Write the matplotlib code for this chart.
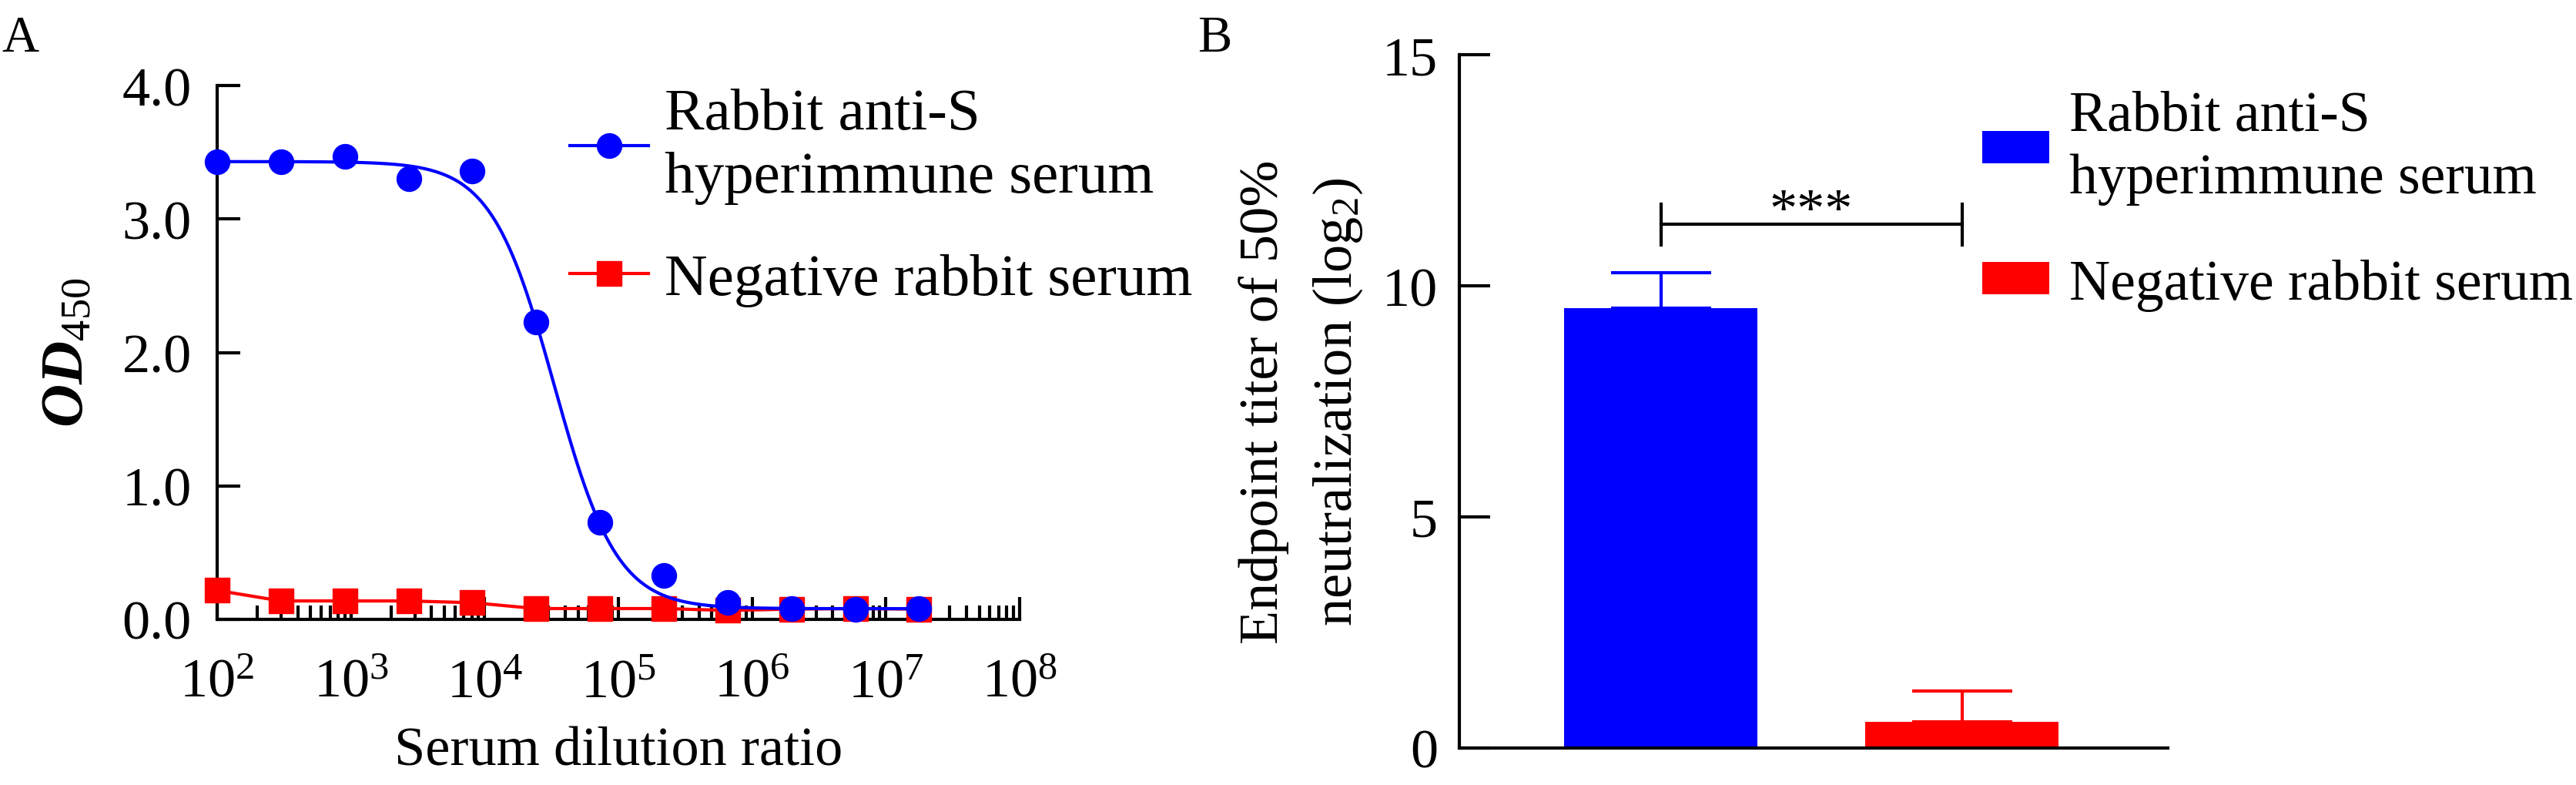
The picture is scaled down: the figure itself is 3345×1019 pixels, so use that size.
import numpy as np
import matplotlib
matplotlib.use("Agg")
import matplotlib.pyplot as plt
from matplotlib.ticker import LogLocator, LogFormatterMathtext, NullFormatter
from matplotlib.lines import Line2D
from matplotlib.patches import Patch

plt.rcParams['font.family'] = ['Liberation Serif', 'DejaVu Serif']
plt.rcParams['mathtext.fontset'] = 'custom'
plt.rcParams['mathtext.rm'] = 'Liberation Serif'
plt.rcParams['mathtext.it'] = 'Liberation Serif:italic'
plt.rcParams['mathtext.bf'] = 'Liberation Serif:bold'

# ---------------- data ----------------
dilutions = [100, 300, 900, 2700, 8100, 24300, 72900, 218700, 656100,
             1968300, 5904900, 17714700]
od_anti_s = [3.43, 3.43, 3.47, 3.30, 3.36, 2.23, 0.73, 0.33, 0.125, 0.081, 0.073, 0.081]
od_negative = [0.217, 0.138, 0.138, 0.138, 0.125, 0.081, 0.081, 0.081, 0.067, 0.077, 0.081, 0.077]
# four-parameter logistic fit of the anti-S curve (top, bottom, logEC50, hill)
fit_top, fit_bottom, fit_log_ec50, fit_hill = 3.43, 0.08, 4.52, 1.85

groups = ["Rabbit anti-S\nhyperimmune serum", "Negative rabbit serum"]
titer_mean = [9.52, 0.56]
titer_err = [0.77, 0.68]
sig_label = "***"

blue = "#0000FF"
red = "#FF0000"

W, H = 3345, 1020
fig = plt.figure(figsize=(W / 100, H / 100), dpi=100)

def fx(px):
    return px / W

def fy(py):
    return 1 - py / H

LW = 3.0
FS_TICK = 52
FS_LAB = 52

# ---------------- Panel A ----------------
axA = fig.add_axes([fx(282), fy(805), fx(1324) - fx(282), fy(112) - fy(805)])
axA.set_xscale('log')
axA.set_xlim(1e2, 1e8)
axA.set_ylim(0, 4.0)

axA.plot(dilutions, od_negative, color=red, lw=LW, marker='s', ms=23,
         mec=red, mfc=red, zorder=3, clip_on=False)
xs = np.logspace(np.log10(dilutions[0]), np.log10(dilutions[-1]), 400)
curve = fit_bottom + (fit_top - fit_bottom) / (1 + 10 ** (fit_hill * (np.log10(xs) - fit_log_ec50)))
axA.plot(xs, curve, color=blue, lw=LW, zorder=4, clip_on=False)
axA.plot(dilutions, od_anti_s, color=blue, lw=0, marker='o', ms=23,
         mec=blue, mfc=blue, zorder=5, clip_on=False)

for s in ['top', 'right']:
    axA.spines[s].set_visible(False)
for s in ['left', 'bottom']:
    axA.spines[s].set_linewidth(LW)
axA.set_yticks([0, 1, 2, 3, 4])
axA.set_yticklabels(["0.0", "1.0", "2.0", "3.0", "4.0"])
axA.xaxis.set_major_locator(LogLocator(base=10, numticks=20))
axA.xaxis.set_major_formatter(LogFormatterMathtext())
axA.xaxis.set_minor_locator(LogLocator(base=10, subs=np.arange(2, 10), numticks=20))
axA.xaxis.set_minor_formatter(NullFormatter())
axA.tick_params(axis='both', which='major', direction='in', width=LW, labelsize=FS_TICK)
axA.tick_params(axis='y', which='major', length=21.6, pad=24)
axA.tick_params(axis='x', which='major', length=21, pad=36)
axA.tick_params(axis='x', which='minor', direction='in', length=13, width=LW)

fig.text(fx(88), fy(458), r"OD$_{\mathrm{450}}$", rotation=90, ha='center', va='center',
         fontsize=56, fontstyle='italic', fontweight='bold')
fig.text(fx(803), fy(994), "Serum dilution ratio", ha='center', va='baseline', fontsize=FS_LAB)

hA = [Line2D([], [], color=blue, lw=LW, marker='o', ms=23),
      Line2D([], [], color=red, lw=LW, marker='s', ms=23)]
legA = axA.legend(hA, groups, loc='upper left', bbox_to_anchor=(fx(740), fy(115)),
                  bbox_transform=fig.transFigure, frameon=False, fontsize=55.5,
                  handlelength=1.32, handletextpad=0.27, borderpad=0, borderaxespad=0,
                  labelspacing=0.82, numpoints=1)
for t in legA.get_texts():
    t.set_linespacing(1.24)

fig.text(fx(2), fy(20), "A", ha='left', va='top', fontsize=48)

# ---------------- Panel B ----------------
axB = fig.add_axes([fx(1895), fy(972), fx(2815) - fx(1895), fy(72) - fy(972)])
xpos = np.arange(len(groups))
axB.bar(xpos, titer_mean, width=0.642, color=[blue, red], zorder=2)
for i in range(len(groups)):
    axB.errorbar(xpos[i], titer_mean[i], yerr=[[0], [titer_err[i]]], fmt='none',
                 ecolor=[blue, red][i], elinewidth=LW, capsize=47, capthick=LW, zorder=1)
axB.set_xlim(-0.669, 1.684)
axB.set_ylim(0, 15)
axB.set_yticks([0, 5, 10, 15])
axB.set_xticks([])
for s in ['top', 'right']:
    axB.spines[s].set_visible(False)
for s in ['left', 'bottom']:
    axB.spines[s].set_linewidth(LW)
axB.tick_params(axis='y', direction='in', length=29, width=LW, labelsize=FS_TICK, pad=20)

# significance bracket
y_br = 11.33
axB.plot([xpos[0], xpos[1]], [y_br, y_br], color='black', lw=LW)
axB.plot([xpos[0], xpos[0]], [10.88, 11.76], color='black', lw=LW)
axB.plot([xpos[1], xpos[1]], [10.88, 11.76], color='black', lw=LW)
axB.text((xpos[0] + xpos[1]) / 2, 11.05, sig_label, ha='center', va='bottom', fontsize=FS_LAB)

fig.text(fx(1690), fy(522), "Endpoint titer of 50%\nneutralization (log$_2$)", rotation=90,
         ha='center', va='center', fontsize=FS_LAB, linespacing=1.55)

hB = [Patch(facecolor=blue, edgecolor='none'), Patch(facecolor=red, edgecolor='none')]
legB = axB.legend(hB, groups, loc='upper left', bbox_to_anchor=(fx(2574), fy(118)),
                  bbox_transform=fig.transFigure, frameon=False, fontsize=53,
                  handlelength=1.18, handleheight=0.5, handletextpad=0.35,
                  borderpad=0, borderaxespad=0, labelspacing=0.95)
for t in legB.get_texts():
    t.set_linespacing(1.265)

fig.text(fx(1555), fy(20), "B", ha='left', va='top', fontsize=48)

fig.savefig("out.png", dpi=100)
